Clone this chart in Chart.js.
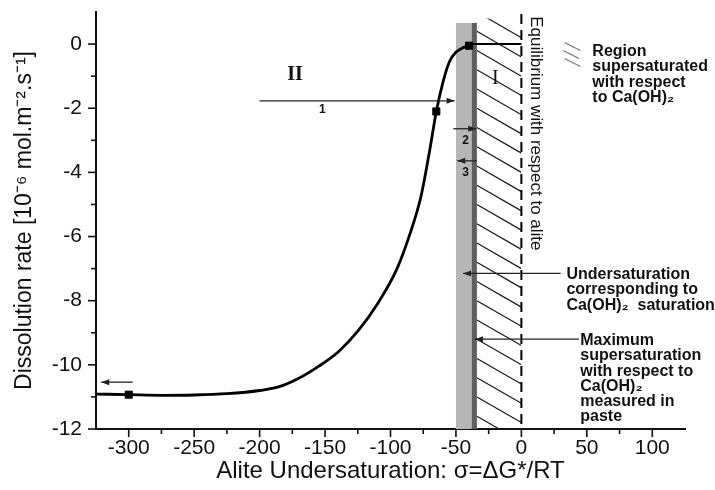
<!DOCTYPE html>
<html>
<head>
<meta charset="utf-8">
<script src="https://cdn.jsdelivr.net/npm/chart.js@4/dist/chart.umd.min.js"></script>
<style>
  html, body { margin: 0; padding: 0; background: #fff; }
</style>
</head>
<body>
<canvas id="rateChart" width="715" height="490"></canvas>
<script>
// dissolution curve
const sigma = [-325, -300, -275, -250, -225, -200, -185, -170, -155, -140, -125, -110, -95, -85, -77, -70, -65, -60, -55, -50, -45, -40];
const rate = [-10.91, -10.93, -10.95, -10.94, -10.9, -10.8, -10.68, -10.42, -10.05, -9.6, -8.95, -8.1, -7.0, -5.9, -4.8, -3.3, -2.1, -1.2, -0.55, -0.25, -0.12, -0.05];

// measured points (squares)
const markerSigma = [-300, -65, -40];
const markerRate = [-10.93, -2.1, -0.05];

// flat part up to equilibrium
const plateauSigma = [-40, 0];
const plateauRate = [0, 0];

// axis labels
const xTickLabels = [-300, -250, -200, -150, -100, -50, 0, 50, 100];
const yTickLabels = [-12, -10, -8, -6, -4, -2, 0];

// Ca(OH)2 saturation band and max supersaturation strip (sigma)
const caohBand = [-50, -38];
const caohMax = [-38, -34];
const bandTop = 0.66;

const FONT = "'Liberation Sans', Arial, sans-serif";
const SERIF = "'Liberation Serif', 'Times New Roman', serif";

function arrow(ctx, x, y, a, b) {
  const x1 = x.getPixelForValue(a[0]), y1 = y.getPixelForValue(a[1]);
  const x2 = x.getPixelForValue(b[0]), y2 = y.getPixelForValue(b[1]);
  const ang = Math.atan2(y2 - y1, x2 - x1);
  ctx.beginPath();
  ctx.moveTo(x1, y1);
  ctx.lineTo(x2, y2);
  ctx.stroke();
  ctx.beginPath();
  ctx.moveTo(x2, y2);
  ctx.lineTo(x2 - 8 * Math.cos(ang) + 3 * Math.sin(ang), y2 - 8 * Math.sin(ang) - 3 * Math.cos(ang));
  ctx.lineTo(x2 - 8 * Math.cos(ang) - 3 * Math.sin(ang), y2 - 8 * Math.sin(ang) + 3 * Math.cos(ang));
  ctx.closePath();
  ctx.fill();
}

function lines(ctx, x, y, at, rows, step) {
  const px = x.getPixelForValue(at[0]), py = y.getPixelForValue(at[1]);
  rows.forEach((r, i) => ctx.fillText(r, px, py + i * step));
}

const decor = {
  id: "decor",
  beforeDatasetsDraw(chart) {
    const { ctx, chartArea, scales: { x, y } } = chart;
    ctx.save();
    // grey band
    ctx.fillStyle = "#b7b7b7";
    ctx.fillRect(x.getPixelForValue(caohBand[0]), y.getPixelForValue(bandTop),
      x.getPixelForValue(caohBand[1]) - x.getPixelForValue(caohBand[0]), chartArea.bottom - y.getPixelForValue(bandTop));
    ctx.fillStyle = "#5f5f5f";
    ctx.fillRect(x.getPixelForValue(caohMax[0]), y.getPixelForValue(bandTop),
      x.getPixelForValue(caohMax[1]) - x.getPixelForValue(caohMax[0]), chartArea.bottom - y.getPixelForValue(bandTop));

    // hatch between strip and equilibrium line
    const hx0 = x.getPixelForValue(caohMax[1]), hx1 = x.getPixelForValue(0);
    const hy0 = y.getPixelForValue(0.8), hy1 = chartArea.bottom;
    ctx.save();
    ctx.beginPath();
    ctx.rect(hx0, hy0, hx1 - hx0, hy1 - hy0);
    ctx.clip();
    ctx.strokeStyle = "#1a1a1a";
    ctx.lineWidth = 1.2;
    for (let v = 2.2; v > -13; v -= 0.6) {
      ctx.beginPath();
      ctx.moveTo(hx0, y.getPixelForValue(v));
      ctx.lineTo(hx1, y.getPixelForValue(v - 0.8));
      ctx.stroke();
    }
    ctx.restore();

    // equilibrium (dashed)
    ctx.strokeStyle = "#000";
    ctx.lineWidth = 2;
    ctx.setLineDash([10, 6]);
    ctx.beginPath();
    ctx.moveTo(hx1, chartArea.top + 2);
    ctx.lineTo(hx1, chartArea.bottom);
    ctx.stroke();
    ctx.setLineDash([]);
    ctx.restore();
  },
  afterDraw(chart) {
    const { ctx, chartArea, scales: { x, y } } = chart;
    ctx.save();
    // axis ticks, major and minor
    ctx.strokeStyle = "#111";
    ctx.lineWidth = 1.6;
    x.ticks.forEach((t) => {
      if (t.value <= x.min || t.value >= x.max) return;
      const px = x.getPixelForValue(t.value);
      const len = t.value % 50 === 0 ? 8 : 5;
      ctx.beginPath();
      ctx.moveTo(px, chartArea.bottom);
      ctx.lineTo(px, chartArea.bottom + len);
      ctx.stroke();
    });
    y.ticks.forEach((t) => {
      if (t.value >= y.max) return;
      const py = y.getPixelForValue(t.value);
      const len = t.value % 2 === 0 ? 8 : 5;
      ctx.beginPath();
      ctx.moveTo(chartArea.left, py);
      ctx.lineTo(chartArea.left - len, py);
      ctx.stroke();
    });

    // arrows
    ctx.strokeStyle = "#222";
    ctx.fillStyle = "#222";
    ctx.lineWidth = 1.3;
    arrow(ctx, x, y, [-200, -1.77], [-51, -1.77]);
    arrow(ctx, x, y, [-52, -2.64], [-34.5, -2.64]);
    arrow(ctx, x, y, [-34, -3.64], [-49, -3.64]);
    arrow(ctx, x, y, [-297, -10.54], [-321, -10.54]);
    arrow(ctx, x, y, [30, -7.15], [-44.5, -7.15]);
    arrow(ctx, x, y, [44, -9.2], [-35.5, -9.2]);

    // region legend swatch
    ctx.strokeStyle = "#777";
    ctx.lineWidth = 1.3;
    [[33, 0.05], [32, -0.2], [33, -0.45]].forEach((p) => {
      ctx.beginPath();
      ctx.moveTo(x.getPixelForValue(p[0]), y.getPixelForValue(p[1]));
      ctx.lineTo(x.getPixelForValue(p[0] + 12), y.getPixelForValue(p[1] - 0.25));
      ctx.stroke();
    });

    // roman numerals
    ctx.fillStyle = "#111";
    ctx.textAlign = "center";
    ctx.textBaseline = "middle";
    ctx.font = "bold 20px " + SERIF;
    lines(ctx, x, y, [-173, -0.96], ["II"], 0);
    ctx.font = "20px " + SERIF;
    lines(ctx, x, y, [-20, -1.09], ["I"], 0);

    ctx.font = "bold 12px " + FONT;
    lines(ctx, x, y, [-152, -2.05], ["1"], 0);
    lines(ctx, x, y, [-42.7, -3.02], ["2"], 0);
    lines(ctx, x, y, [-42.7, -4.01], ["3"], 0);

    // notes
    ctx.textAlign = "left";
    ctx.textBaseline = "alphabetic";
    ctx.font = "bold 16px " + FONT;
    lines(ctx, x, y, [54.2, -0.37], ["Region", "supersaturated", "with respect", "to Ca(OH)\u2082"], 15.3);
    lines(ctx, x, y, [34.4, -7.31], ["Undersaturation", "corresponding to", "Ca(OH)\u2082  saturation"], 15.5);
    lines(ctx, x, y, [45, -9.39], ["Maximum", "supersaturation", "with respect to", "Ca(OH)\u2082", "measured in", "paste"], 15.2);

    // equilibrium label, rotated
    ctx.font = "17px " + FONT;
    ctx.translate(x.getPixelForValue(10.7), y.getPixelForValue(0.87));
    ctx.rotate(Math.PI / 2);
    ctx.textBaseline = "middle";
    ctx.fillText("Equilibrium with respect to alite", 0, 0);
    ctx.restore();
  },
};

new Chart(document.getElementById("rateChart"), {
  type: "line",
  data: {
    datasets: [
      {
        label: "Dissolution rate",
        data: sigma.map((s, i) => ({ x: s, y: rate[i] })),
        borderColor: "#000",
        borderWidth: 2.8,
        pointRadius: 0,
        cubicInterpolationMode: "monotone",
      },
      {
        label: "Plateau",
        data: plateauSigma.map((s, i) => ({ x: s, y: plateauRate[i] })),
        borderColor: "#000",
        borderWidth: 2,
        pointRadius: 0,
      },
      {
        type: "scatter",
        label: "Measured",
        data: markerSigma.map((s, i) => ({ x: s, y: markerRate[i] })),
        pointStyle: "rect",
        pointRadius: 5,
        backgroundColor: "#000",
        borderColor: "#000",
      },
    ],
  },
  options: {
    responsive: false,
    animation: false,
    layout: { padding: { top: 12, right: 30, left: 0, bottom: 0 } },
    plugins: { legend: { display: false }, tooltip: { enabled: false } },
    scales: {
      x: {
        type: "linear",
        min: -325,
        max: 125,
        afterFit(scale) {
          scale.height = 61;
          scale.paddingLeft = 0;
          scale.paddingRight = 0;
        },
        grid: { display: false, drawTicks: false },
        border: { color: "#111", width: 2 },
        ticks: {
          stepSize: 25,
          autoSkip: false,
          maxRotation: 0,
          padding: 7,
          color: "#111",
          font: { family: FONT, size: 21 },
          callback: (v) => (xTickLabels.includes(v) ? v : ""),
        },
        title: {
          display: true,
          text: "Alite Undersaturation: \u03c3=\u0394G*/RT",
          color: "#111",
          font: { family: FONT, size: 24 },
          padding: { top: 0, bottom: 4 },
        },
      },
      y: {
        min: -12,
        max: 1,
        afterFit(scale) {
          scale.width = 96;
          scale.paddingTop = 0;
          scale.paddingBottom = 0;
        },
        grid: { display: false, drawTicks: false },
        border: { color: "#111", width: 2 },
        ticks: {
          stepSize: 1,
          autoSkip: false,
          padding: 14,
          color: "#111",
          font: { family: FONT, size: 21 },
          callback: (v) => (yTickLabels.includes(v) ? v : ""),
        },
        title: {
          display: true,
          text: "Dissolution rate [10\u207b\u2076 mol.m\u207b\u00b2.s\u207b\u00b9]",
          color: "#111",
          font: { family: FONT, size: 23 },
          padding: { top: 11, bottom: 0 },
        },
      },
    },
  },
  plugins: [decor],
});
</script>
</body>
</html>
